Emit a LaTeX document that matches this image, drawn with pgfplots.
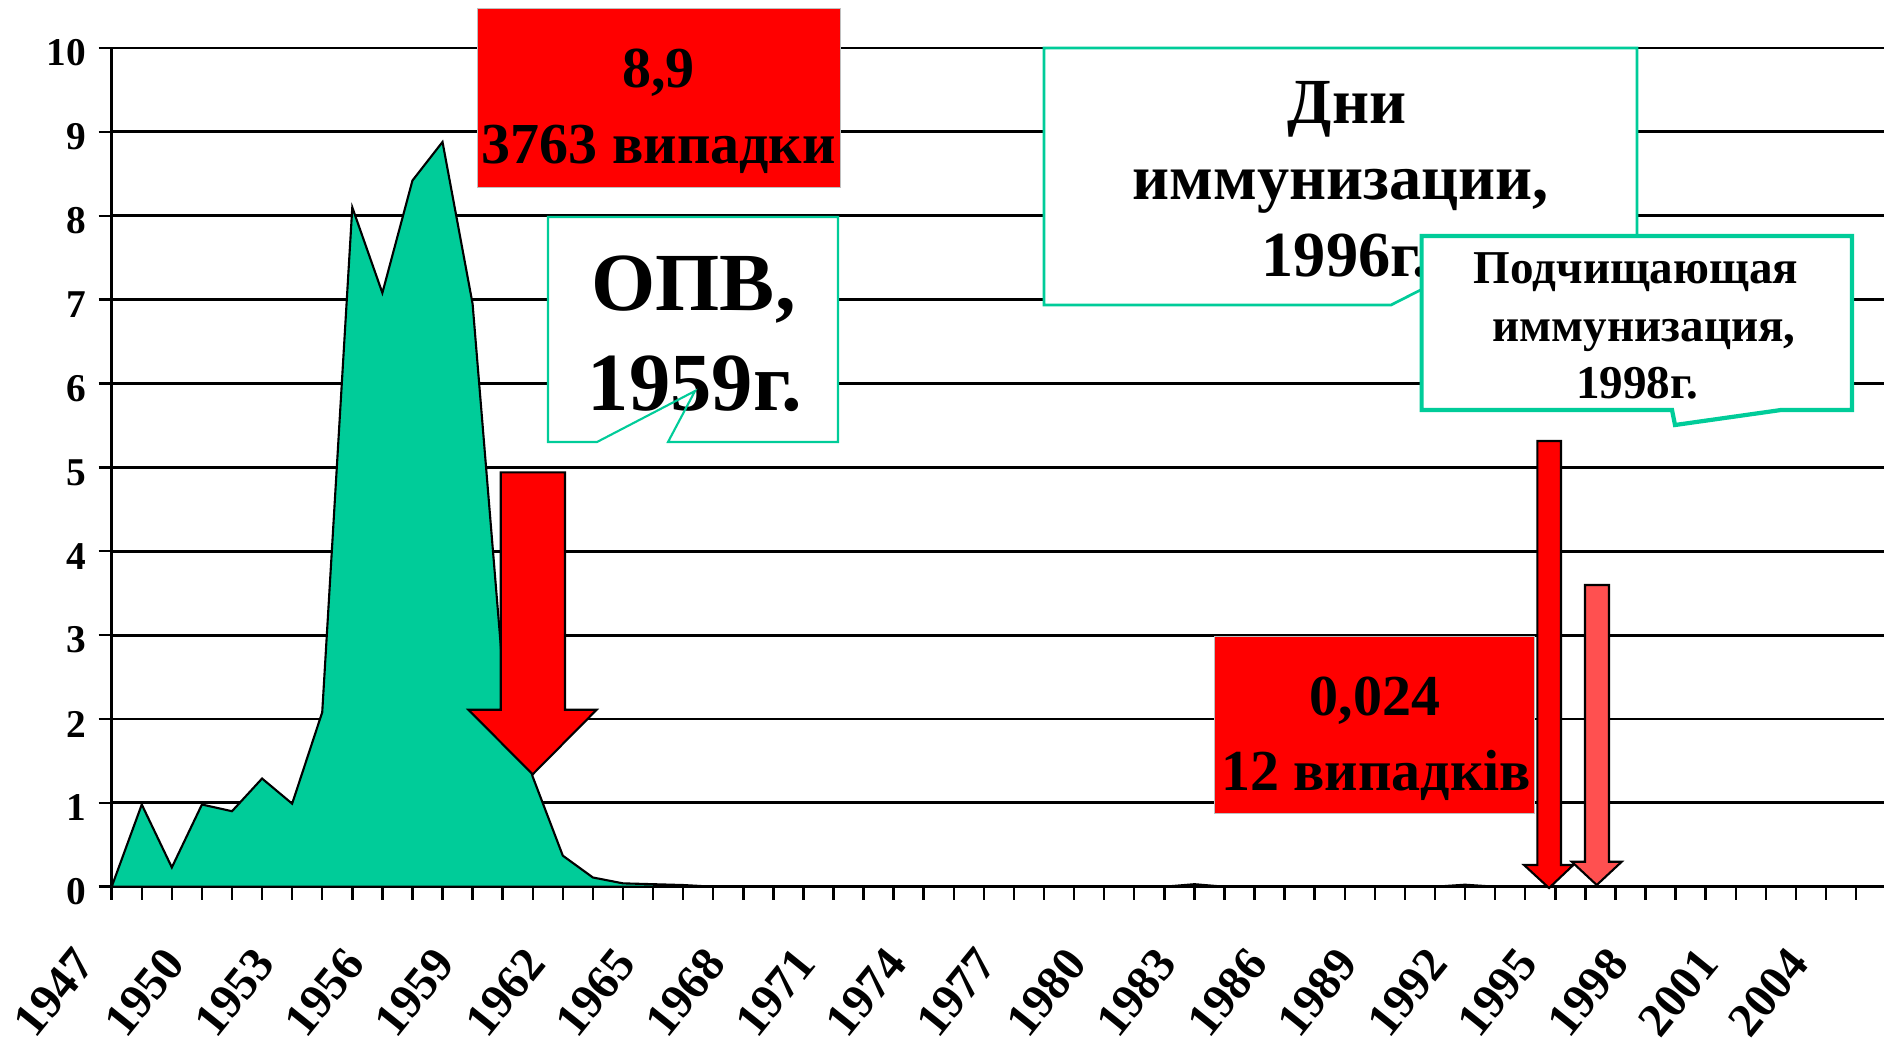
\documentclass[border=0pt]{standalone}
\usepackage{pgfplots}
\pgfplotsset{compat=1.18}
\usepackage{pgfplotstable}
\usepackage{fontspec}
\setmainfont{Liberation Serif}
\definecolor{teal1}{RGB}{0,204,153}
\definecolor{red1}{RGB}{255,0,0}
\definecolor{red2}{RGB}{255,80,80}

\pgfplotstableread{
year val
1947 0
1948 0.98
1949 0.23
1950 0.98
1951 0.90
1952 1.29
1953 0.99
1954 2.08
1955 8.10
1956 7.08
1957 8.42
1958 8.88
1959 6.95
1960 2.60
1961 1.31
1962 0.37
1963 0.11
1964 0.04
1965 0.03
1966 0.02
1967 0
1968 0
1969 0
1970 0
1971 0
1972 0
1973 0
1974 0
1975 0
1976 0
1977 0
1978 0
1979 0
1980 0
1981 0
1982 0
1983 0.03
1984 0
1985 0
1986 0
1987 0
1988 0
1989 0
1990 0
1991 0
1992 0.024
1993 0
1994 0
1995 0
1996 0
1997 0
1998 0
1999 0
2000 0
2001 0
2002 0
2003 0
2004 0
2005 0
2006 0
}\polio

\newcommand\fA{\fontsize{16.5}{16.5}\selectfont\bfseries}
\newcommand\fB{\fontsize{23.5}{23.5}\selectfont\bfseries}
\newcommand\fC{\fontsize{18.3}{18.3}\selectfont\bfseries}
\newcommand\fD{\fontsize{13.4}{13.4}\selectfont\bfseries}

\begin{document}
\begin{tikzpicture}
\path[use as bounding box] (0,0) rectangle (188.4mm,106.1mm);
\begin{axis}[
  at={(11.17mm,17.43mm)}, anchor=south west,
  scale only axis, width=177.23mm, height=83.87mm,
  xmin=1947, xmax=2005.93, ymin=0, ymax=10,
  axis x line*=bottom, axis y line*=left,
  axis line style={line width=0.9pt, -, black},
  ytick={0,1,2,3,4,5,6,7,8,9,10},
  yticklabels={0,1,2,3,4,5,6,7,8,9,10},
  xtick={1947,1950,1953,1956,1959,1962,1965,1968,1971,1974,1977,1980,1983,1986,1989,1992,1995,1998,2001,2004},
  xticklabels={1947,1950,1953,1956,1959,1962,1965,1968,1971,1974,1977,1980,1983,1986,1989,1992,1995,1998,2001,2004},
  minor xtick={1947,1948,...,2005},
  tick align=outside,
  major tick length=1.3mm, minor tick length=1.3mm,
  every tick/.style={black, line width=0.7pt},
  ymajorgrids, grid style={black, line width=0.8pt},
  yticklabel style={font=\fontsize{11.2}{11.2}\selectfont\bfseries, yshift=-0.5mm},
  xticklabel style={font=\fontsize{13.6}{13.6}\selectfont\bfseries, xshift=-4.2mm, yshift=-2.8mm, rotate=51, anchor=north east},
]
\addplot[fill=teal1, draw=black, line width=0.6pt] table[x=year,y=val]{\polio} \closedcycle;
\end{axis}

\begin{scope}[x=0.1mm, y=-0.1mm, yshift=106.1mm]
% Box A
\fill[red1] (477,8) rectangle (840,187);
\draw[gray!50, line width=0.2pt] (477,8) rectangle (840,187);
\node[anchor=base, inner sep=0pt, font=\fA] at (658.7,87) {8,9};
\node[anchor=base, inner sep=0pt, font=\fA] at (658.7,163) {3763 випадки};
% Box B
\fill[white] (548,217) rectangle (838,442);
\node[anchor=base, inner sep=0pt, font=\fB] at (693.5,310) {ОПВ,};
\node[anchor=base, inner sep=0pt, font=\fB] at (695,410) {1959г.};
\draw[teal1, line width=0.6pt, line join=miter] (548,217) -- (838,217) -- (838,442) -- (668,442) -- (695,391) -- (597,442) -- (548,442) -- cycle;
% Arrow 1
\filldraw[fill=red1, draw=black, line width=0.6pt, line join=miter] (500.7,472.4) -- (565,472.4) -- (565,709.7) -- (596.7,709.7) -- (532.7,774.3) -- (468.3,709.7) -- (500.7,709.7) -- cycle;
% Box C
\fill[white] (1044,48) rectangle (1637,305);
\node[anchor=base, inner sep=0pt, font=\fC] at (1347,123) {Дни};
\node[anchor=base, inner sep=0pt, font=\fC] at (1341,199) {иммунизации,};
\node[anchor=base, inner sep=0pt, font=\fC] at (1345,276) {1996г.};
\draw[teal1, line width=0.77pt, line join=miter] (1044,48) -- (1637,48) -- (1637,305) -- (1440,305) -- (1450,275) -- (1391,305) -- (1044,305) -- cycle;
% Box D
\fill[white] (1421.6,236) rectangle (1852,410);
\node[anchor=base, inner sep=0pt, font=\fD] at (1636,283) {Подчищающая};
\node[anchor=base, inner sep=0pt, font=\fD] at (1644,341) {иммунизация,};
\node[anchor=base, inner sep=0pt, font=\fD] at (1637,398) {1998г.};
\draw[teal1, line width=1.2pt, line join=miter] (1421.6,236) -- (1852,236) -- (1852,410) -- (1781,410) -- (1675,425) -- (1672,410) -- (1421.6,410) -- cycle;
% Box E
\fill[red1] (1214,636) rectangle (1534,813);
\draw[gray!50, line width=0.2pt] (1214,636) rectangle (1534,813);
\node[anchor=base, inner sep=0pt, font=\fA] at (1375,715) {0,024};
\node[anchor=base, inner sep=0pt, font=\fA] at (1376,790) {12 випадків};
% Arrows 2 and 3
\filldraw[fill=red1, draw=black, line width=0.6pt, line join=miter] (1537.3,441) -- (1561,441) -- (1561,865) -- (1573.3,865) -- (1549,888) -- (1524,865) -- (1537.3,865) -- cycle;
\filldraw[fill=red2, draw=black, line width=0.6pt, line join=miter] (1585,585) -- (1609,585) -- (1609,861.7) -- (1621.7,861.7) -- (1596.7,885) -- (1571.7,861.7) -- (1585,861.7) -- cycle;
\end{scope}
\end{tikzpicture}
\end{document}
